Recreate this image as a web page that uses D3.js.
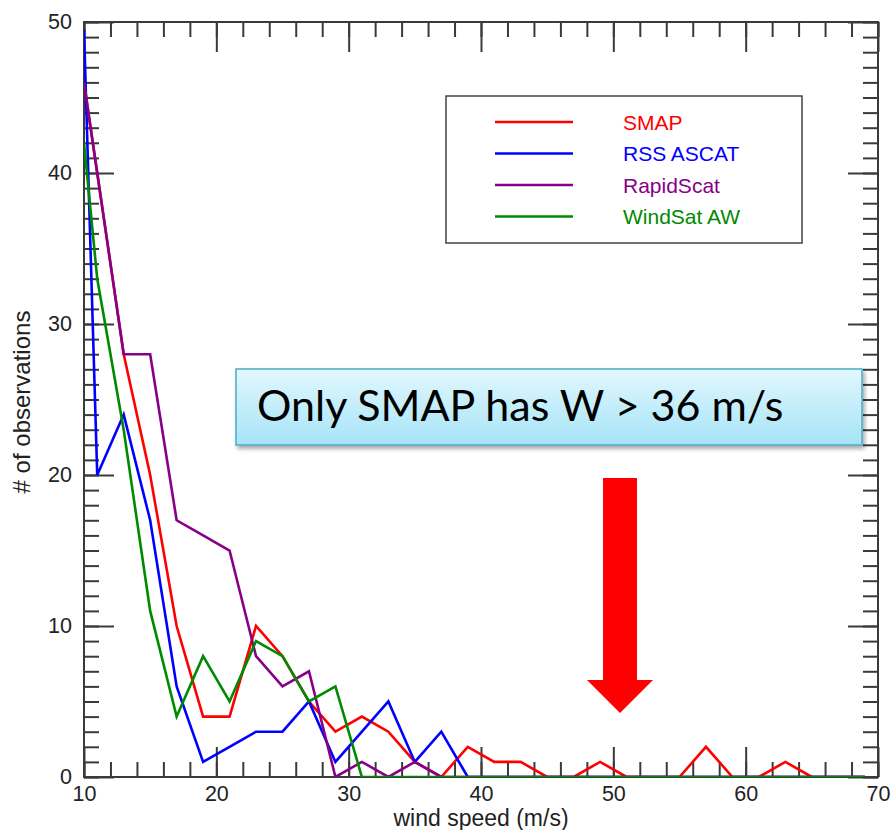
<!DOCTYPE html>
<html>
<head>
<meta charset="utf-8">
<script src="https://cdn.jsdelivr.net/npm/d3@7"></script>
<style>
  html, body { margin: 0; padding: 0; background: #fff; }
  svg { display: block; }
</style>
</head>
<body>
<div id="chart"></div>
<script>
// wind speed bins (m/s); first point sits on the left edge of the plot
const windSpeed = [10, 11, 13, 15, 17, 19, 21, 23, 25, 27, 29, 31, 33, 35, 37, 39,
                   41, 43, 45, 47, 49, 51, 53, 55, 57, 59, 61, 63, 65, 67, 69];

const smap      = [46, 40, 28, 20, 10, 4, 4, 10, 8, 5, 3, 4, 3, 1, 0, 2,
                   1, 1, 0, 0, 1, 0, 0, 0, 2, 0, 0, 1, 0, 0, 0];
const rssAscat  = [49.5, 20, 24, 17, 6, 1, 2, 3, 3, 5, 1, 3, 5, 1, 3, 0,
                   0, 0, 0, 0, 0, 0, 0, 0, 0, 0, 0, 0, 0, 0, 0];
const rapidScat = [46, 40, 28, 28, 17, 16, 15, 8, 6, 7, 0, 1, 0, 1, 0, 0,
                   0, 0, 0, 0, 0, 0, 0, 0, 0, 0, 0, 0, 0, 0, 0];
const windSatAW = [42, 33, 23, 11, 4, 8, 5, 9, 8, 5, 6, 0, 0, 0, 0, 0,
                   0, 0, 0, 0, 0, 0, 0, 0, 0, 0, 0, 0, 0, 0, 0];

const seriesNames  = ['SMAP', 'RSS ASCAT', 'RapidScat', 'WindSat AW'];
const seriesValues = [smap, rssAscat, rapidScat, windSatAW];
const COLORS = {
  'SMAP':       '#ff0000',
  'RSS ASCAT':  '#0000ff',
  'RapidScat':  '#870087',
  'WindSat AW': '#008a00',
};

const xTicks = [10, 20, 30, 40, 50, 60, 70];
const yTicks = [0, 10, 20, 30, 40, 50];
const xTitle = 'wind speed (m/s)';
const yTitle = '# of observations';
const note   = 'Only SMAP has W > 36 m/s';

const W = 894, H = 830;
const margin = { top: 22, right: 16, bottom: 53, left: 84 };
const innerW = W - margin.left - margin.right;
const innerH = H - margin.top - margin.bottom;

const xScale = d3.scaleLinear().domain([10, 70]).range([0, innerW]);
const yScale = d3.scaleLinear().domain([0, 50]).range([innerH, 0]);

const svg = d3.select('#chart').append('svg').attr('width', W).attr('height', H);
const defs = svg.append('defs');

defs.append('clipPath').attr('id', 'plot-clip')
  .append('rect').attr('width', innerW).attr('height', innerH);

const grad = defs.append('linearGradient').attr('id', 'note-fill')
  .attr('x1', 0).attr('y1', 0).attr('x2', 0).attr('y2', 1);
grad.append('stop').attr('offset', '0%').attr('stop-color', '#e2f7fd');
grad.append('stop').attr('offset', '100%').attr('stop-color', '#a6e4f8');

defs.append('filter').attr('id', 'note-shadow')
  .attr('x', '-5%').attr('y', '-20%').attr('width', '115%').attr('height', '150%')
  .append('feDropShadow')
  .attr('dx', 2).attr('dy', 3).attr('stdDeviation', 2)
  .attr('flood-color', '#000').attr('flood-opacity', 0.35);

const g = svg.append('g').attr('transform', `translate(${margin.left},${margin.top})`);

const FONT = '"Liberation Sans", Arial, Helvetica, sans-serif';
const AXIS_COLOR = '#3a3a3a';

// IDL style: ticks point inward on all four sides, major every 10, minor in between
function styleAxis(ax) {
  ax.select('.domain').remove();
  ax.selectAll('.tick line').attr('stroke', AXIS_COLOR).attr('stroke-width', 2);
  ax.selectAll('text').attr('fill', '#222').style('font-family', FONT).style('font-size', '21.5px');
}

const xMinor = xScale.ticks(30);
const yMinor = yScale.ticks(50);

// bottom
g.append('g').attr('transform', `translate(0,${innerH})`)
  .call(d3.axisBottom(xScale).tickValues(xMinor).tickSize(-15).tickFormat(''))
  .call(styleAxis);
g.append('g').attr('transform', `translate(0,${innerH})`)
  .call(d3.axisBottom(xScale).tickValues(xTicks).tickSize(-30).tickPadding(9).tickFormat(d3.format('d')))
  .call(styleAxis);
// top
g.append('g')
  .call(d3.axisTop(xScale).tickValues(xMinor).tickSize(-15).tickFormat(''))
  .call(styleAxis);
g.append('g')
  .call(d3.axisTop(xScale).tickValues(xTicks).tickSize(-30).tickFormat(''))
  .call(styleAxis);
// left
g.append('g')
  .call(d3.axisLeft(yScale).tickValues(yMinor).tickSize(-15).tickFormat(''))
  .call(styleAxis);
g.append('g')
  .call(d3.axisLeft(yScale).tickValues(yTicks).tickSize(-30).tickPadding(12).tickFormat(d3.format('d')))
  .call(styleAxis);
// right
g.append('g').attr('transform', `translate(${innerW},0)`)
  .call(d3.axisRight(yScale).tickValues(yMinor).tickSize(-15).tickFormat(''))
  .call(styleAxis);
g.append('g').attr('transform', `translate(${innerW},0)`)
  .call(d3.axisRight(yScale).tickValues(yTicks).tickSize(-30).tickFormat(''))
  .call(styleAxis);

// frame
g.append('rect')
  .attr('width', innerW).attr('height', innerH)
  .attr('fill', 'none').attr('stroke', AXIS_COLOR).attr('stroke-width', 2);

// axis titles
svg.append('text')
  .attr('x', margin.left + innerW / 2).attr('y', H - 4)
  .attr('text-anchor', 'middle').attr('fill', '#222')
  .style('font-family', FONT).style('font-size', '23px')
  .text(xTitle);

svg.append('text')
  .attr('transform', `translate(30,402) rotate(-90)`)
  .attr('text-anchor', 'middle').attr('fill', '#222')
  .style('font-family', FONT).style('font-size', '24px')
  .text(yTitle);

// lines
const line = d3.line()
  .x((d, i) => xScale(windSpeed[i]))
  .y(d => yScale(d));

g.append('g').attr('clip-path', 'url(#plot-clip)')
  .selectAll('path')
  .data(seriesValues)
  .join('path')
  .attr('fill', 'none')
  .attr('stroke', (d, i) => COLORS[seriesNames[i]])
  .attr('stroke-width', 2.6)
  .attr('stroke-linejoin', 'miter')
  .attr('d', d => line(d));

// legend
const legend = svg.append('g').attr('transform', 'translate(446,96)');
legend.append('rect')
  .attr('width', 356).attr('height', 147)
  .attr('fill', '#fff').attr('stroke', '#444').attr('stroke-width', 1.5);
seriesNames.forEach((name, i) => {
  const ly = 26 + i * 31.5;
  legend.append('line')
    .attr('x1', 49).attr('x2', 127).attr('y1', ly).attr('y2', ly)
    .attr('stroke', COLORS[name]).attr('stroke-width', 2.6);
  legend.append('text')
    .attr('x', 177).attr('y', ly + 7.5)
    .attr('fill', COLORS[name])
    .style('font-family', FONT).style('font-size', '21px')
    .text(name);
});

// callout box
const callout = svg.append('g').attr('transform', 'translate(236,369)');
callout.append('rect')
  .attr('width', 626).attr('height', 76)
  .attr('fill', 'url(#note-fill)')
  .attr('stroke', '#4bacc6').attr('stroke-width', 1.5)
  .attr('filter', 'url(#note-shadow)');
const noteText = callout.append('text')
  .attr('x', 21).attr('y', 52)
  .attr('fill', '#000')
  .style('font-family', 'Lato, "Open Sans", sans-serif')
  .style('font-size', '40px')
  .text(note);
// fit the sentence to the width it takes in the reference
const textW = noteText.node().getComputedTextLength();
if (textW > 0) noteText.style('font-size', (40 * 526 / textW).toFixed(1) + 'px');

// red arrow pointing at the high-wind SMAP counts
const arrow = d3.path();
arrow.moveTo(603, 478);
arrow.lineTo(637, 478);
arrow.lineTo(637, 680);
arrow.lineTo(653, 680);
arrow.lineTo(620, 713);
arrow.lineTo(587, 680);
arrow.lineTo(603, 680);
arrow.closePath();
svg.append('path').attr('d', arrow.toString()).attr('fill', '#ff0000');
</script>
</body>
</html>
